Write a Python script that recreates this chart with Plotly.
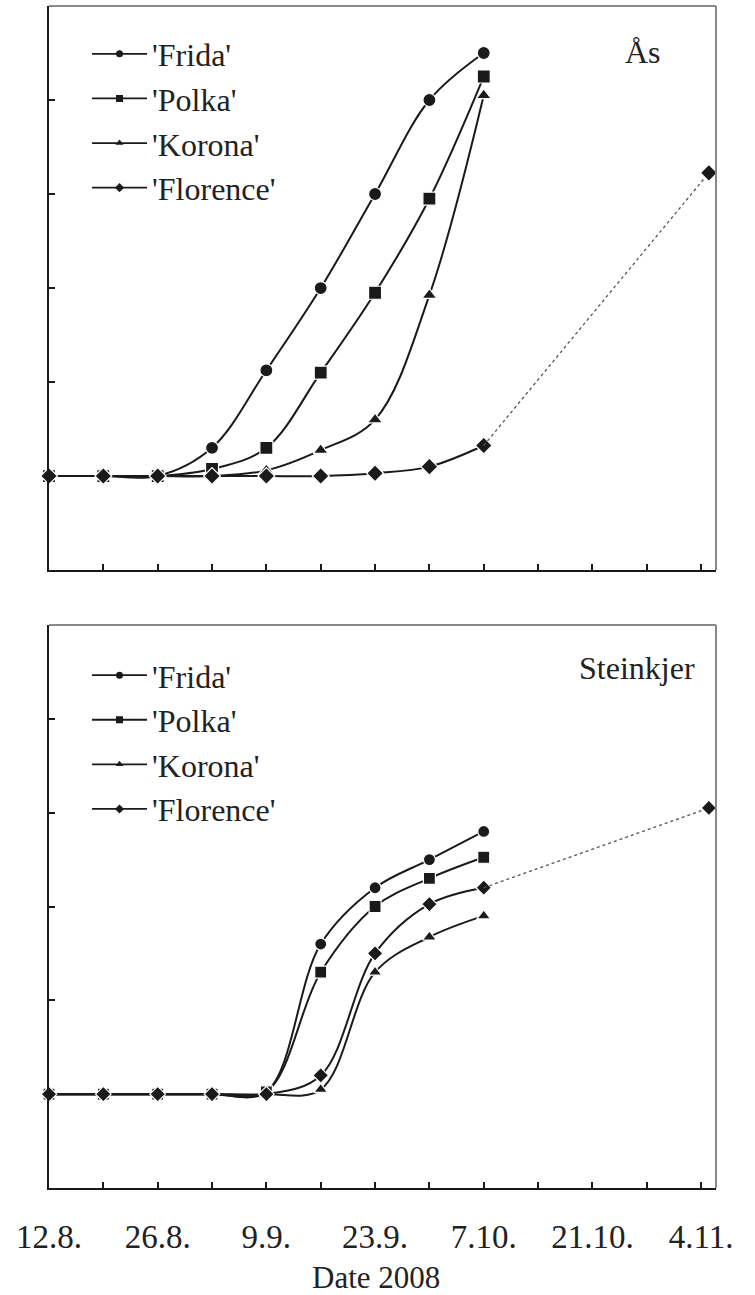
import plotly.graph_objects as go

# ---------------- data ----------------
dates = ["2008-08-12", "2008-08-19", "2008-08-26", "2008-09-02", "2008-09-09",
         "2008-09-16", "2008-09-23", "2008-09-30", "2008-10-07"]
late_date = "2008-11-05"

tick_dates = ["2008-08-12", "2008-08-19", "2008-08-26", "2008-09-02", "2008-09-09",
              "2008-09-16", "2008-09-23", "2008-09-30", "2008-10-07", "2008-10-14",
              "2008-10-21", "2008-10-28", "2008-11-04"]
tick_labels = ["12.8.", "", "26.8.", "", "9.9.", "", "23.9.", "", "7.10.", "",
               "21.10.", "", "4.11."]

cultivars = ["'Frida'", "'Polka'", "'Korona'", "'Florence'"]
symbols = ["circle", "square", "triangle-up", "diamond"]

# Ås
frida_as = [0, 0, 0, 6, 22.5, 40, 60, 80, 90]
polka_as = [0, 0, 0, 1.5, 6, 22, 39, 59, 85]
korona_as = [0, 0, 0, 0, 1.2, 5.5, 12, 38.5, 81]
florence_as = [0, 0, 0, 0, 0, 0, 0.6, 2, 6.5]
florence_as_late = 64.5

# Steinkjer
frida_st = [0, 0, 0, 0, 0.5, 32, 44, 50, 56]
polka_st = [0, 0, 0, 0, 0.5, 26, 40, 46, 50.5]
korona_st = [0, 0, 0, 0, 0, 1, 26, 33.5, 38]
florence_st = [0, 0, 0, 0, 0, 4, 30, 40.5, 44]
florence_st_late = 61

series_as = [frida_as, polka_as, korona_as, florence_as]
series_st = [frida_st, polka_st, korona_st, florence_st]

# ---------------- style ----------------
FONT = "Liberation Serif, Times New Roman, serif"
INK = "#1a1a1a"
TXT = "#222"

fig = go.Figure()


def add_panel(series, late_val, xa, ya, legend_name, msize):
    for name, sym, vals in zip(cultivars, symbols, series):
        fig.add_trace(go.Scatter(
            x=dates, y=vals, name=name, mode="lines+markers",
            line=dict(color=INK, width=2, shape="spline", smoothing=1.0),
            marker=dict(symbol=sym, size=msize, color=INK,
                        line=dict(color="white", width=1.2)),
            xaxis=xa, yaxis=ya, legendgroup=legend_name + name,
            showlegend=False, cliponaxis=False,
        ))
        # legend entry with the small key marker used in the original figure
        fig.add_trace(go.Scatter(
            x=[None], y=[None], name=name, mode="lines+markers",
            line=dict(color=INK, width=1.8),
            marker=dict(symbol=sym, size=7, color=INK),
            xaxis=xa, yaxis=ya, legend=legend_name,
            legendgroup=legend_name + name, showlegend=True,
        ))
    fl = series[3]
    # dotted extension of 'Florence' to the last harvest
    fig.add_trace(go.Scatter(
        x=[dates[-1], late_date], y=[fl[-1], late_val], mode="lines",
        line=dict(color="#555", width=1.3, dash="dot"),
        xaxis=xa, yaxis=ya, showlegend=False, cliponaxis=False,
    ))
    fig.add_trace(go.Scatter(
        x=[late_date], y=[late_val], mode="markers",
        marker=dict(symbol="diamond", size=msize, color=INK,
                    line=dict(color="white", width=1.2)),
        xaxis=xa, yaxis=ya, showlegend=False, cliponaxis=False,
    ))


add_panel(series_as, florence_as_late, "x", "y", "legend", 13)
add_panel(series_st, florence_st_late, "x2", "y2", "legend2", 12)

xrange = ["2008-08-12", "2008-11-05 22:00"]
common_x = dict(type="date", range=xrange, tickvals=tick_dates, automargin=False,
                ticks="inside", ticklen=6, tickwidth=1.5, tickcolor=INK,
                showline=True, linecolor=INK, linewidth=2,
                showgrid=False, zeroline=False,
                tickfont=dict(family=FONT, size=33, color=TXT))
common_y = dict(range=[-20, 100], tickvals=[-20, 0, 20, 40, 60, 80, 100],
                automargin=False,
                showticklabels=False, ticks="inside", ticklen=6, tickwidth=1.5,
                tickcolor=INK, showline=True, linecolor=INK, linewidth=2,
                showgrid=False, zeroline=False)

legend_font = dict(family=FONT, size=32, color=TXT)

fig.update_layout(
    width=755, height=1295,
    margin=dict(l=49, r=39, t=6, b=107),
    paper_bgcolor="white", plot_bgcolor="white",
    xaxis=dict(common_x, anchor="y", domain=[0, 1], ticktext=[""] * len(tick_dates)),
    yaxis=dict(common_y, anchor="x", domain=[0.5228, 1]),
    xaxis2=dict(common_x, anchor="y2", domain=[0, 1], ticktext=tick_labels,
                ticklabelstandoff=18),
    yaxis2=dict(common_y, anchor="x2", domain=[0, 0.4763]),
    legend=dict(x=0.057, y=0.9826, xanchor="left", yanchor="top",
                bgcolor="rgba(0,0,0,0)", itemwidth=55, tracegroupgap=0,
                font=legend_font),
    legend2=dict(x=0.057, y=0.457, xanchor="left", yanchor="top",
                 bgcolor="rgba(0,0,0,0)", itemwidth=55, tracegroupgap=0,
                 font=legend_font),
    showlegend=True,
    annotations=[
        dict(text="Ås", x=0.89, y=0.961, xref="paper", yref="paper",
             xanchor="center", yanchor="middle",
             showarrow=False, font=dict(family=FONT, size=32, color=TXT)),
        dict(text="Steinkjer", x=0.881, y=0.44, xref="paper", yref="paper",
             xanchor="center", yanchor="middle",
             showarrow=False, font=dict(family=FONT, size=32, color=TXT)),
        dict(text="Date 2008", x=0.49, y=-0.0755, xref="paper", yref="paper",
             xanchor="center", yanchor="middle",
             showarrow=False, font=dict(family=FONT, size=31, color=TXT)),
    ],
    shapes=[
        dict(type="line", xref="x domain", yref="y domain", x0=0, x1=1, y0=1, y1=1,
             line=dict(color="#888", width=2)),
        dict(type="line", xref="x domain", yref="y domain", x0=1, x1=1, y0=0, y1=1,
             line=dict(color="#888", width=2)),
        dict(type="line", xref="x2 domain", yref="y2 domain", x0=0, x1=1, y0=1, y1=1,
             line=dict(color="#888", width=2)),
        dict(type="line", xref="x2 domain", yref="y2 domain", x0=1, x1=1, y0=0, y1=1,
             line=dict(color="#888", width=2)),
    ],
)

fig.write_html("out.html",
               config={"displayModeBar": False},
               post_script="document.body.style.margin='0';")
